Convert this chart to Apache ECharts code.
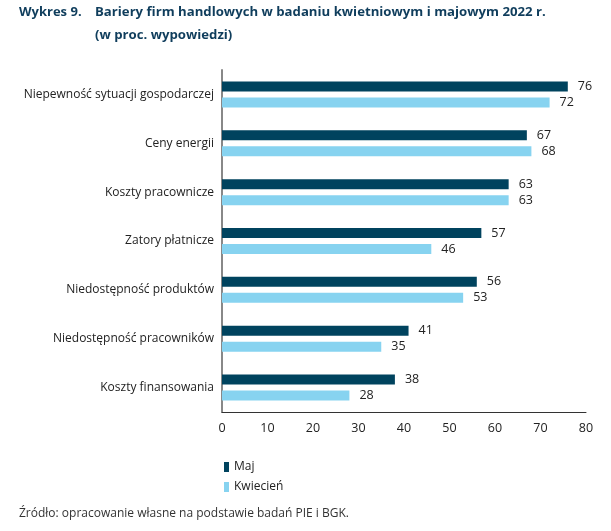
<!DOCTYPE html>
<html><head><meta charset="utf-8">
<script src="https://cdn.jsdelivr.net/npm/echarts@6/dist/echarts.min.js"></script>
<style>html,body{margin:0;padding:0;background:#fff}#c{width:611px;height:531px}</style>
</head><body><div id="c"></div>
<script>
const categories = ["Niepewność sytuacji gospodarczej","Ceny energii","Koszty pracownicze","Zatory płatnicze","Niedostępność produktów","Niedostępność pracowników","Koszty finansowania"];
const maj = [76,67,63,57,56,41,38];
const kwiecien = [72,68,63,46,53,35,28];
const xTicks = [0,10,20,30,40,50,60,70,80];

const F = '"Open Sans"';
const chart = echarts.init(document.getElementById('c'));
const lbl = {show:true, position:'right', distance:10, color:'#222', fontSize:12.5, fontFamily:F};
chart.setOption({
  animation:false,
  graphic:[
    {type:'text', left:19, top:6, style:{text:'Wykres 9.', font:'bold 13px "Open Sans"', fill:'#0f3d5c'}},
    {type:'text', left:95, top:6, style:{text:'Bariery firm handlowych w badaniu kwietniowym i majowym 2022 r.', font:'bold 13.2px "Open Sans"', fill:'#0f3d5c'}},
    {type:'text', left:95, top:29, style:{text:'(w proc. wypowiedzi)', font:'bold 13.2px "Open Sans"', fill:'#0f3d5c'}},
    {type:'text', left:19, top:508, style:{text:'Źródło: opracowanie własne na podstawie badań PIE i BGK.', font:'12px "Open Sans"', fill:'#333'}}
  ],
  legend:{orient:'vertical', left:219, top:456, itemWidth:5, itemHeight:10, itemGap:8, icon:'rect',
    textStyle:{fontSize:12, color:'#222', fontFamily:F}, data:['Maj','Kwiecień']},
  grid:{left:222, right:25, top:70, bottom:119, containLabel:false},
  xAxis:{type:'value', min:0, max:80, interval:10,
    axisLine:{show:true, lineStyle:{color:'#333', width:1}}, axisTick:{show:false}, splitLine:{show:false},
    axisLabel:{color:'#222', fontSize:12.5, margin:10, fontFamily:F,
      formatter:v=>xTicks.includes(v)?String(v):''}},
  yAxis:{type:'category', data:categories, inverse:true,
    axisLine:{show:true, lineStyle:{color:'#888', width:2}}, axisTick:{show:false},
    axisLabel:{color:'#222', fontSize:12, margin:8, fontFamily:F}},
  series:[
    {name:'Maj', type:'bar', data:maj, barWidth:10, barGap:'60%', itemStyle:{color:'#00435e'}, label:lbl},
    {name:'Kwiecień', type:'bar', data:kwiecien, barWidth:10, barGap:'60%', itemStyle:{color:'#87d3f0'}, label:lbl}
  ]
});
</script></body></html>
